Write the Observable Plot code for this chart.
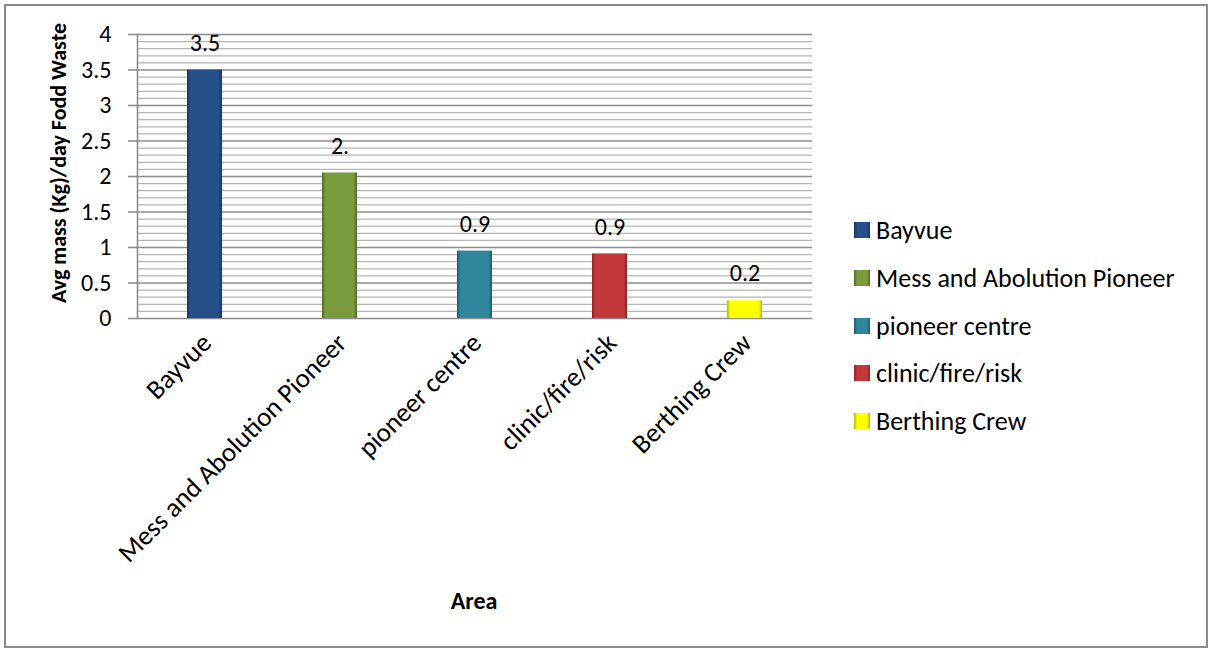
<!DOCTYPE html>
<html><head><meta charset="utf-8">
<script src="https://cdn.jsdelivr.net/npm/d3@7"></script>
<script src="https://cdn.jsdelivr.net/npm/@observablehq/plot@0.6"></script>
<style>
body{margin:0;background:#fff;font-family:Carlito,Lato,sans-serif;}
#wrap{position:relative;width:1208px;height:648px;overflow:hidden;background:#fff}
#border{position:absolute;left:4px;top:4px;width:1204px;height:644px;border:2px solid #8a8a8a;box-sizing:border-box;pointer-events:none}
#chart{position:absolute;left:0;top:0}
.ttl{position:absolute;font-weight:bold;white-space:nowrap;color:#000}
#legend{position:absolute;left:854px;top:0}
.li{position:absolute;left:0;display:flex;align-items:center;white-space:nowrap;font-size:26px;color:#000;height:24px}
.sw{width:16px;height:16px;margin-right:6px;box-sizing:border-box}
</style></head>
<body>
<div id="wrap">
  <div id="chart"></div>
  <div class="ttl" id="ytitle"></div>
  <div class="ttl" id="xtitle"></div>
  <div id="legend"></div>
  <div id="border"></div>
</div>
<script>
const categories = ["Bayvue", "Mess and Abolution Pioneer", "pioneer centre", "clinic/fire/risk", "Berthing Crew"];
const values = [3.5, 2.05, 0.95, 0.91, 0.25];
const valueLabels = ["3.5", "2.", "0.9", "0.9", "0.2"];
const colors = ["#25508a", "#7a9a3e", "#31869e", "#c3393b", "#ffff00"];
const edgeColors = ["#173560", "#506b25", "#1d5a6b", "#8a2224", "#b8b800"];
const yTicks = [0, 0.5, 1, 1.5, 2, 2.5, 3, 3.5, 4];
const yTickLabels = ["0", "0.5", "1", "1.5", "2", "2.5", "3", "3.5", "4"];
const yTitle = "Avg mass (Kg)/day Fodd Waste";
const xTitle = "Area";

const minorTicks = d3.range(0, 41).map(v => v / 10).filter(v => Math.round(v * 10) % 5 !== 0);
const data = categories.map((c, i) => ({cat: c, value: values[i], label: valueLabels[i], color: colors[i]}));

const font = "Carlito, Lato, sans-serif";
const svg = Plot.plot({
  width: 1208, height: 648,
  marginLeft: 137, marginRight: 396, marginTop: 34, marginBottom: 330,
  x: {domain: categories, paddingInner: 0.74, paddingOuter: 0.37},
  y: {domain: [0, 4]},
  style: {fontFamily: font, fontSize: "24px", color: "#000", background: "transparent", overflow: "visible"},
  marks: [
    Plot.ruleY(minorTicks, {stroke: "#b5b5b5", strokeWidth: 1.3}),
    Plot.ruleY(yTicks, {stroke: "#8c8c8c", strokeWidth: 1.6}),
    Plot.frame({anchor: "left", stroke: "#8c8c8c", strokeWidth: 1.6}),
    Plot.axisY({ticks: yTicks, tickFormat: d => yTickLabels[yTicks.indexOf(d)], tickSize: 9, tickPadding: 17, stroke: "#8c8c8c", strokeWidth: 1.6, label: null, fontSize: 24}),
    Plot.barY(data, {x: "cat", y: "value", fill: "color"}),
    Plot.text(data, {x: "cat", y: "value", text: "label", dy: -27, fontSize: 24}),
    Plot.axisX({tickRotate: -45, tickSize: 0, tickPadding: 20, dx: 2, label: null, fontSize: 27})
  ]
});
document.getElementById("chart").appendChild(svg);

const sel = d3.select(svg);
// explicit font sizes on label groups
sel.selectAll('g[aria-label="y-axis tick label"]').attr("font-size", 24).selectAll("text").attr("font-size", 24);
sel.selectAll('g[aria-label="text"]').attr("font-size", 24).selectAll("text").attr("font-size", 24);

// gradients for bevel-like bars
const defs = sel.insert("defs", ":first-child");
colors.forEach((c, i) => {
  const g = defs.append("linearGradient").attr("id", "g" + i).attr("x1", 0).attr("x2", 1).attr("y1", 0).attr("y2", 0);
  g.append("stop").attr("offset", "0%").attr("stop-color", edgeColors[i]);
  g.append("stop").attr("offset", "10%").attr("stop-color", c);
  g.append("stop").attr("offset", "90%").attr("stop-color", c);
  g.append("stop").attr("offset", "100%").attr("stop-color", edgeColors[i]);
});
sel.selectAll('g[aria-label="bar"] rect').attr("fill", (d, i) => `url(#g${i})`);

const yt = document.getElementById("ytitle");
yt.textContent = yTitle;
yt.style.fontSize = "22px";
yt.style.left = "58px"; yt.style.top = "163px";
yt.style.transform = "translate(-50%,-50%) rotate(-90deg)";
const xt = document.getElementById("xtitle");
xt.textContent = xTitle;
xt.style.fontSize = "24px";
xt.style.left = "474px"; xt.style.top = "600px";
xt.style.transform = "translate(-50%,-50%)";

const legend = document.getElementById("legend");
categories.forEach((c, i) => {
  const row = document.createElement("div");
  row.className = "li";
  row.style.top = (230 + i * 47.8 - 12) + "px";
  row.innerHTML = `<div class="sw" style="background:linear-gradient(90deg, ${edgeColors[i]}, ${colors[i]} 20%, ${colors[i]} 80%, ${edgeColors[i]})"></div><span>${c}</span>`;
  legend.appendChild(row);
});
</script>
</body></html>
